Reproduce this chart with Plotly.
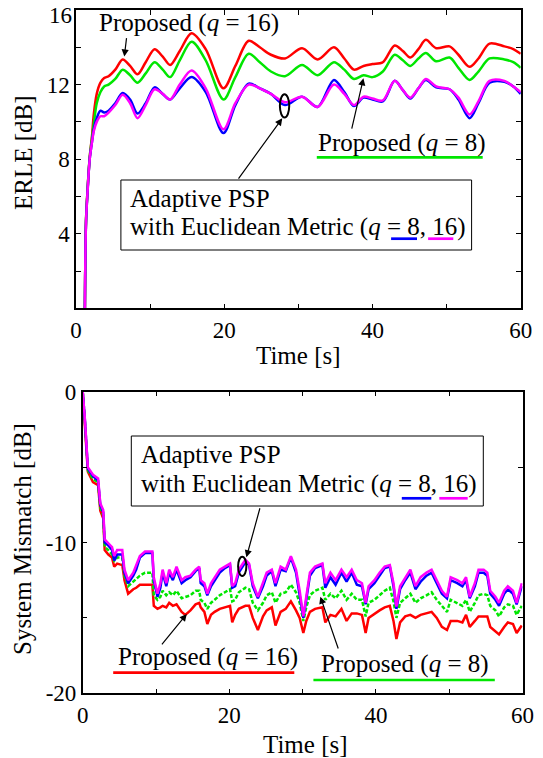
import plotly.graph_objects as go

W, H = 543, 758
FONT = "Liberation Serif"

# ---------------- ERLE (top) ----------------
t_erle = [1.2, 1.35, 1.55, 1.85, 2.15, 2.4, 2.8, 3.3, 3.8, 4.4,
          5.3, 6.3, 7.3, 8.3, 9.4, 10.6, 11.7, 12.7, 14.0, 15.6,
          17.5, 19.9, 21.5, 23.3, 24.8, 26.3, 28.2, 30.5, 32.6, 34.8,
          36.2, 37.5, 38.8, 40.0, 41.4, 43.0, 44.1, 45.1, 46.2, 47.2,
          48.6, 50.4, 51.6, 53.1, 54.3, 55.8, 57.8, 59.0, 60.0]
erle_prop16 = [0, 4.7, 6.3, 8.1, 9.2, 10.4, 11.5, 12.1, 12.35, 12.45,
               12.8, 13.35, 13.0, 12.55, 13.2, 13.9, 13.5, 13.05, 13.8, 14.75,
               13.9, 11.8, 13.0, 14.35, 14.0, 13.6, 13.4, 13.95, 13.35, 14.0,
               13.4, 12.8, 13.0, 13.1, 13.2, 14.1, 13.8, 13.45, 13.9, 14.4,
               13.95, 14.05, 13.6, 12.95, 13.4, 14.2, 14.05, 13.9, 13.65]
erle_prop8 = [0, 4.7, 6.3, 8.1, 9.1, 9.9, 11.0, 11.6, 11.9, 12.0,
              12.3, 12.8, 12.5, 12.1, 12.6, 13.2, 12.8, 12.4, 13.3, 14.3,
              13.3, 11.2, 12.4, 13.65, 13.2, 12.7, 12.45, 13.05, 12.5, 13.2,
              12.8, 12.3, 12.5, 12.4, 12.7, 13.6, 13.3, 13.0, 13.4, 13.7,
              13.25, 13.45, 12.9, 12.25, 12.7, 13.4, 13.35, 13.2, 12.9]
erle_psp8 = [0, 4.6, 6.2, 8.0, 8.9, 9.6, 10.2, 10.6, 10.5, 10.6,
             11.0, 11.55, 11.2, 10.45, 11.0, 11.85, 11.5, 11.2, 11.8, 12.4,
             11.6, 9.4, 10.9, 12.05, 11.8, 11.5, 10.9, 11.35, 10.8, 12.25,
             11.6, 10.85, 11.3, 11.2, 11.1, 12.2, 11.7, 11.25, 11.8, 12.25,
             11.85, 11.75, 11.2, 10.2, 11.0, 12.1, 12.15, 11.9, 11.5]
erle_psp16 = [0, 4.6, 6.2, 8.0, 8.9, 9.5, 10.0, 10.3, 10.3, 10.5,
              10.9, 11.45, 11.0, 10.2, 10.9, 11.75, 11.5, 11.2, 12.0, 12.75,
              11.8, 9.6, 11.0, 12.0, 11.8, 11.5, 11.05, 11.35, 10.8, 12.0,
              11.5, 10.9, 11.35, 11.25, 11.15, 12.2, 11.7, 11.3, 11.8, 12.3,
              11.9, 11.75, 11.3, 10.4, 11.1, 12.2, 12.2, 11.9, 11.6]

# ---------------- System mismatch (bottom) ----------------
t_mis = [0, 0.3, 0.7, 1.4, 2.1, 2.4, 2.8, 3.0, 3.5, 4.0,
         4.3, 4.7, 5.4, 5.7, 6.2, 6.9, 7.3, 7.8, 8.5, 9.5,
         9.7, 10.2, 10.6, 10.9, 11.4, 11.8, 12.3, 12.8, 13.5, 14.0,
         14.7, 15.4, 15.9, 16.1, 16.6, 17.0, 17.5, 18.0, 18.7, 19.4,
         20.1, 20.4, 20.8, 21.3, 22.2, 22.7, 23.2, 23.9, 24.6, 25.1,
         25.8, 26.3, 27.0, 27.7, 28.4, 29.1, 29.6, 30.1, 30.5, 31.0,
         31.7, 32.7, 33.1, 33.8, 34.5, 35.3, 36.0, 36.7, 37.4, 38.1,
         38.6, 39.0, 39.8, 40.5, 41.2, 41.9, 42.4, 42.8, 43.3, 44.0,
         44.7, 45.4, 46.1, 46.9, 47.6, 48.3, 49.0, 49.7, 50.2, 51.1,
         51.8, 52.3, 52.8, 53.5, 54.0, 54.7, 55.2, 55.6, 56.3, 56.8,
         57.5, 58.0, 58.7, 59.2, 59.9]
mis_psp16 = [0, -1.8, -5.0, -5.5, -5.75, -7.4, -7.85, -9.8, -10.05, -10.3,
             -10.9, -10.5, -10.5, -11.8, -12.5, -12.0, -11.5, -10.9, -10.6, -10.6,
             -12.3, -13.4, -12.7, -11.8, -12.7, -11.8, -12.3, -11.6, -12.5, -12.3,
             -12.2, -11.8, -11.6, -12.5, -12.7, -13.4, -12.7, -12.3, -11.8, -11.6,
             -11.4, -12.9, -12.7, -11.8, -11.15, -11.4, -12.7, -13.6, -12.7, -12.0,
             -11.8, -12.7, -11.6, -11.8, -10.9, -11.8, -13.2, -14.9, -13.6, -12.0,
             -11.6, -11.4, -12.7, -12.0, -12.5, -11.8, -12.3, -11.8, -12.5, -12.7,
             -14.0, -12.9, -12.5, -12.0, -11.6, -11.5, -12.7, -14.25, -12.9, -12.3,
             -11.8, -12.9, -12.3, -12.0, -11.8, -12.5, -13.2, -13.6, -12.3, -12.5,
             -12.7, -12.3, -13.6, -12.7, -11.8, -11.8, -12.0, -13.2, -13.6, -14.0,
             -13.2, -12.9, -13.2, -14.0, -12.7]
mis_psp8 = [0, -1.9, -5.1, -5.6, -5.9, -7.5, -8.0, -10.0, -10.2, -10.5,
            -11.2, -10.8, -10.8, -12.0, -12.7, -12.2, -11.8, -11.0, -10.7, -10.7,
            -12.5, -13.6, -13.0, -12.0, -12.9, -12.0, -12.5, -11.8, -12.7, -12.5,
            -12.3, -11.9, -11.7, -12.7, -12.9, -13.5, -12.9, -12.5, -12.0, -11.7,
            -11.5, -13.0, -12.9, -12.0, -11.3, -11.5, -12.9, -13.7, -12.9, -12.2,
            -11.9, -12.9, -11.8, -11.9, -11.0, -12.0, -13.4, -15.0, -13.8, -12.2,
            -11.7, -11.5, -13.0, -12.3, -12.8, -12.0, -12.6, -12.0, -12.8, -12.9,
            -14.1, -13.1, -12.7, -12.2, -11.7, -11.6, -12.9, -14.4, -13.1, -12.5,
            -12.0, -13.1, -12.6, -12.2, -12.0, -12.7, -13.4, -13.7, -12.5, -12.7,
            -12.9, -12.5, -13.7, -12.9, -12.0, -12.0, -12.2, -13.4, -13.8, -14.2,
            -13.4, -13.1, -13.4, -14.1, -12.9]
mis_prop8 = [0, -1.9, -5.2, -5.8, -6.0, -7.7, -8.2, -10.3, -10.5, -10.8,
             -11.2, -11.0, -11.0, -12.2, -12.9, -12.6, -12.4, -12.2, -12.0, -12.0,
             -13.5, -13.8, -13.6, -13.2, -13.5, -13.3, -13.5, -13.2, -13.7, -13.6,
             -13.5, -13.2, -13.2, -13.8, -14.0, -14.4, -14.0, -13.8, -13.5, -13.3,
             -13.1, -13.9, -13.8, -13.3, -13.0, -13.1, -14.0, -14.5, -14.0, -13.5,
             -13.3, -14.0, -13.4, -13.3, -12.8, -13.3, -14.0, -15.2, -14.3, -13.5,
             -13.2, -13.0, -13.8, -13.4, -13.7, -13.2, -13.8, -13.4, -13.8, -13.8,
             -14.9, -14.0, -13.8, -13.5, -13.2, -13.0, -13.9, -15.0, -14.0, -13.7,
             -13.4, -14.0, -13.7, -13.5, -13.3, -13.8, -14.2, -14.6, -13.8, -14.0,
             -14.2, -13.8, -14.6, -14.0, -13.5, -13.4, -13.5, -14.2, -14.5, -14.9,
             -14.3, -14.1, -14.2, -14.8, -14.2]
mis_prop16 = [0, -2.0, -5.3, -6.0, -6.2, -7.9, -8.4, -10.5, -10.8, -11.0,
              -11.6, -11.4, -11.5, -12.5, -13.4, -13.1, -13.0, -12.8, -12.8, -12.8,
              -14.2, -14.4, -14.3, -14.2, -14.3, -14.0, -14.2, -14.1, -14.6, -14.8,
              -14.5, -14.1, -14.0, -14.3, -14.6, -15.4, -14.8, -14.6, -14.4, -14.3,
              -14.2, -15.3, -14.8, -14.4, -14.2, -14.2, -15.0, -15.8, -14.9, -14.5,
              -14.3, -15.5, -14.6, -14.4, -13.9, -14.5, -15.0, -16.0, -15.2, -14.6,
              -14.4, -14.3, -15.3, -14.8, -14.9, -14.4, -15.2, -14.7, -14.7, -14.8,
              -16.0, -15.0, -14.7, -14.5, -14.3, -14.2, -15.2, -16.4, -15.3, -14.9,
              -14.8, -15.0, -14.8, -14.7, -14.6, -15.0, -15.6, -15.8, -15.2, -15.2,
              -15.3, -14.8, -15.6, -15.2, -14.9, -14.9, -14.9, -15.6, -15.9, -16.1,
              -15.6, -15.3, -15.4, -16.0, -15.5]

# ---------------- ticks ----------------
x_tickvals = [0, 10, 20, 30, 40, 50, 60]
x_ticktext = ["0", "", "20", "", "40", "", "60"]
erle_tickvals = [0, 2, 4, 6, 8, 10, 12, 14, 16]
erle_ticktext = ["", "", "4", "", "8", "", "12", "", ""]
erle_top_label = "16"
mis_tickvals = [-20, -15, -10, -5, 0]
mis_ticktext = ["-20", "", "-10", "", "0"]

RED, GREEN, BLUE, MAGENTA = "#ff0000", "#00e600", "#0000ff", "#ff00ff"


def px(v):
    return v / W


def py(v):
    return 1 - v / H


fig = go.Figure()

# top traces
for ys, col in [(erle_prop16, RED), (erle_prop8, GREEN), (erle_psp8, BLUE), (erle_psp16, MAGENTA)]:
    fig.add_trace(go.Scatter(x=t_erle, y=ys, mode="lines", xaxis="x", yaxis="y",
                             line=dict(color=col, width=2.5, shape="spline", smoothing=0.9),
                             showlegend=False, hoverinfo="skip"))
# bottom traces
for ys, col, dash in [(mis_prop16, RED, "solid"), (mis_prop8, GREEN, "4px,2px"),
                      (mis_psp8, BLUE, "solid"), (mis_psp16, MAGENTA, "solid")]:
    fig.add_trace(go.Scatter(x=t_mis, y=ys, mode="lines", xaxis="x2", yaxis="y2",
                             line=dict(color=col, width=2.5, dash=dash),
                             showlegend=False, hoverinfo="skip"))

axis_common = dict(showline=True, linecolor="black", linewidth=1.5, mirror="ticks",
                   ticks="inside", ticklen=5, tickwidth=1, tickcolor="black",
                   showgrid=False, zeroline=False, automargin=False,
                   ticklabeloverflow="allow",
                   tickfont=dict(family=FONT, size=23, color="black"))

fig.update_layout(
    width=W, height=H,
    margin=dict(l=0, r=0, t=0, b=0),
    paper_bgcolor="white", plot_bgcolor="white",
    font=dict(family=FONT, color="black"),
    xaxis=dict(domain=[px(76), px(520.7)], anchor="y", range=[0, 60],
               tickvals=x_tickvals, ticktext=x_ticktext, **axis_common),
    yaxis=dict(domain=[py(308.3), py(10)], anchor="x", range=[0, 16],
               tickvals=erle_tickvals, ticktext=erle_ticktext, **axis_common),
    xaxis2=dict(domain=[px(82.7), px(522.5)], anchor="y2", range=[0, 60],
                tickvals=x_tickvals, ticktext=x_ticktext, **axis_common),
    yaxis2=dict(domain=[py(693.3), py(391.7)], anchor="x2", range=[-20, 0],
                tickvals=mis_tickvals, ticktext=mis_ticktext, **axis_common),
)

annotations = []
shapes = []


def text_ann(text, xpx, ypx, anchor="left", size=25, angle=0):
    annotations.append(dict(text=text, x=px(xpx), y=py(ypx), xref="paper", yref="paper",
                            xanchor=anchor, yanchor="middle", showarrow=False,
                            textangle=angle, borderpad=0,
                            font=dict(family=FONT, size=size, color="black")))


def arrow(xr, yr, hx, hy, tx, ty):
    annotations.append(dict(text="", x=hx, y=hy, ax=tx, ay=ty, xref=xr, yref=yr,
                            axref=xr, ayref=yr, showarrow=True, arrowhead=2,
                            arrowsize=1.2, arrowwidth=1.2, arrowcolor="black"))


def uline(x0, x1, ypx, col):
    shapes.append(dict(type="line", xref="paper", yref="paper", x0=px(x0), x1=px(x1),
                       y0=py(ypx), y1=py(ypx), line=dict(color=col, width=2.7)))


def rect(x0, y0, x1, y1):
    shapes.append(dict(type="rect", xref="paper", yref="paper", x0=px(x0), x1=px(x1),
                       y0=py(y1), y1=py(y0), line=dict(color="black", width=1),
                       fillcolor="white", layer="above"))


# top y label kept inside the page
text_ann(erle_top_label, 72.5, 15, anchor="right", size=23)

# axis titles
text_ann("ERLE [dB]", 23, 153, anchor="center", angle=-90)
text_ann("System Mismatch [dB]", 22, 539, anchor="center", angle=-90)
text_ann("Time [s]", 298, 356, anchor="center")
text_ann("Time [s]", 305, 744, anchor="center")

# ---- top annotations ----
text_ann("Proposed (<i>q</i> = 16)", 189, 23, anchor="center")
arrow("x", "y", 6.52, 13.5, 6.84, 14.57)
text_ann("Proposed (<i>q</i> = 8)", 316.8, 143, anchor="left")
uline(316.8, 482.7, 157.3, GREEN)
arrow("x", "y", 38.78, 12.34, 37.16, 9.56)
rect(120.9, 180, 471.6, 250)
text_ann("Adaptive PSP", 129.2, 198, anchor="left")
text_ann("with Euclidean Metric (<i>q</i> = 8, 16)", 129.2, 227.5, anchor="left")
uline(391.1, 417, 238.7, BLUE)
uline(428.1, 453.3, 238.7, MAGENTA)
shapes.append(dict(type="circle", xref="x", yref="y", x0=27.51, x1=28.77, y0=10.24, y1=11.48,
                   line=dict(color="black", width=2)))
arrow("x", "y", 27.83, 10.19, 21.78, 6.88)

# ---- bottom annotations ----
rect(131.3, 436, 483.3, 506)
text_ann("Adaptive PSP", 139.9, 454, anchor="left")
text_ann("with Euclidean Metric (<i>q</i> = 8, 16)", 139.9, 484, anchor="left")
uline(401.8, 431.3, 498.3, BLUE)
uline(439.3, 467.7, 498.3, MAGENTA)
shapes.append(dict(type="circle", xref="x2", yref="y2", x0=21.2, x1=22.33, y0=-12.22, y1=-10.94,
                   line=dict(color="black", width=2)))
arrow("x2", "y2", 22.33, -10.98, 24.23, -7.63)
text_ann("Proposed (<i>q</i> = 16)", 116.7, 657, anchor="left")
uline(113.2, 294.3, 672.7, RED)
arrow("x2", "y2", 14.2, -14.74, 10.64, -16.86)
text_ann("Proposed (<i>q</i> = 8)", 320.3, 664, anchor="left")
uline(313.4, 494.8, 680, GREEN)
arrow("x2", "y2", 32.42, -13.59, 34.93, -17.13)

fig.update_layout(annotations=annotations, shapes=shapes)
fig.write_html("out.html", config={"displayModeBar": False},
               post_script="document.body.style.margin='0';document.body.style.overflow='hidden';")
